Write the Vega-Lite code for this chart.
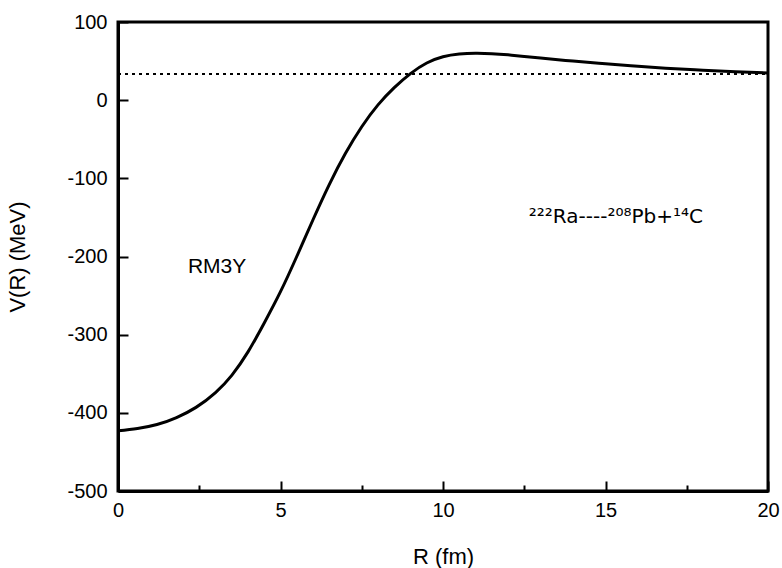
{
  "$schema": "https://vega.github.io/schema/vega-lite/v6.json",
  "width": 650,
  "height": 469,
  "autosize": {"type": "none"},
  "padding": {"left": 118, "top": 22, "right": 14, "bottom": 77},
  "background": "white",
  "config": {
    "font": "Liberation Sans",
    "view": {"stroke": "black", "strokeWidth": 3},
    "axis": {"grid": false}
  },
  "datasets": {
    "curve": [
      {"R": 0, "V": -423}, {"R": 0.6, "V": -420}, {"R": 1.2, "V": -415}, {"R": 1.8, "V": -406},
      {"R": 2.4, "V": -393}, {"R": 3.0, "V": -374}, {"R": 3.5, "V": -352}, {"R": 4.0, "V": -322},
      {"R": 4.5, "V": -285}, {"R": 5.0, "V": -245}, {"R": 5.5, "V": -200}, {"R": 6.0, "V": -153},
      {"R": 6.5, "V": -108}, {"R": 7.0, "V": -68}, {"R": 7.5, "V": -34}, {"R": 8.0, "V": -6},
      {"R": 8.5, "V": 16}, {"R": 9.0, "V": 34}, {"R": 9.5, "V": 47.5}, {"R": 10.0, "V": 55.5},
      {"R": 10.5, "V": 59}, {"R": 11.0, "V": 60}, {"R": 11.5, "V": 59.5}, {"R": 12.0, "V": 58},
      {"R": 12.5, "V": 56}, {"R": 13.0, "V": 54}, {"R": 14.0, "V": 50}, {"R": 15.0, "V": 46.5},
      {"R": 16.0, "V": 43.3}, {"R": 17.0, "V": 40.5}, {"R": 18.0, "V": 38.3}, {"R": 19.0, "V": 36.3},
      {"R": 20.0, "V": 34.8}
    ],
    "level": [{"R": 0, "V": 33.5}, {"R": 20, "V": 33.5}],
    "label1": [{"R": 3.05, "V": -214, "text": "RM3Y"}],
    "label2": [{"R": 15.32, "V": -150, "text": "²²²Ra----²⁰⁸Pb+¹⁴C"}]
  },
  "layer": [
    {
      "data": {"name": "level"},
      "mark": {"type": "line", "color": "black", "strokeWidth": 2, "strokeDash": [3, 4]},
      "encoding": {
        "x": {"field": "R", "type": "quantitative", "scale": {"domain": [0, 20], "nice": false},
          "axis": {"values": [0, 2.5, 5, 7.5, 10, 12.5, 15, 17.5, 20],
            "labelExpr": "datum.value % 5 === 0 ? '' + datum.value : ''",
            "tickSize": {"condition": {"test": "datum.value % 5 === 0", "value": -10}, "value": -6},
            "tickWidth": 2, "tickColor": "black",
            "domainColor": "black", "domainWidth": 3, "labelFontSize": 20, "labelColor": "black", "labelPadding": 19,
            "labelFlush": false, "labelOverlap": false,
            "title": "R (fm)", "titleFontSize": 22, "titleFontWeight": "normal", "titleColor": "black", "titlePadding": 22}},
        "y": {"field": "V", "type": "quantitative", "scale": {"domain": [-500, 100], "nice": false},
          "axis": {"values": [-500, -450, -400, -350, -300, -250, -200, -150, -100, -50, 0, 50, 100],
            "labelExpr": "datum.value % 100 === 0 ? (datum.value < 0 ? '-' + abs(datum.value) : '' + datum.value) : ''",
            "tickSize": {"condition": {"test": "datum.value % 100 === 0", "value": -10}, "value": -6},
            "tickWidth": 2, "tickColor": "black",
            "domainColor": "black", "domainWidth": 3, "labelFontSize": 20, "labelColor": "black", "labelPadding": 21,
            "labelFlush": false, "labelOverlap": false,
            "title": "V(R) (MeV)", "titleFontSize": 22, "titleFontWeight": "normal", "titleColor": "black", "titlePadding": 37}}
      }
    },
    {
      "data": {"name": "curve"},
      "mark": {"type": "line", "color": "black", "strokeWidth": 3, "interpolate": "natural"},
      "encoding": {
        "x": {"field": "R", "type": "quantitative"},
        "y": {"field": "V", "type": "quantitative"}
      }
    },
    {
      "data": {"name": "label1"},
      "mark": {"type": "text", "color": "black", "align": "center", "baseline": "middle", "font": "Liberation Sans", "fontSize": 21},
      "encoding": {
        "x": {"field": "R", "type": "quantitative"},
        "y": {"field": "V", "type": "quantitative"},
        "text": {"field": "text"}
      }
    },
    {
      "data": {"name": "label2"},
      "mark": {"type": "text", "color": "black", "align": "center", "baseline": "middle", "font": "DejaVu Sans", "fontSize": 20},
      "encoding": {
        "x": {"field": "R", "type": "quantitative"},
        "y": {"field": "V", "type": "quantitative"},
        "text": {"field": "text"}
      }
    }
  ]
}
